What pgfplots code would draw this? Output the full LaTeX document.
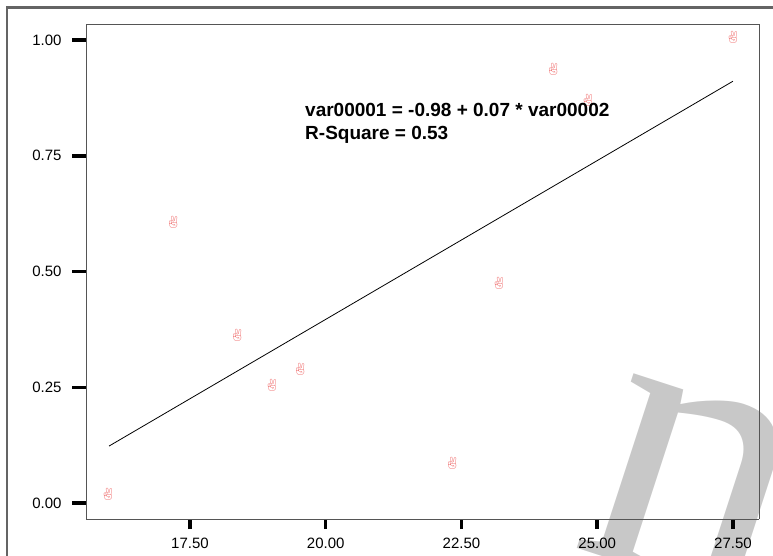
\documentclass[border=0pt]{standalone}
\usepackage{pgfplots}
\pgfplotsset{compat=1.18}
\usepackage{fontspec}
\setmainfont{Liberation Sans}
\newfontfamily\emojifont{Noto Emoji}
\newfontfamily\wmfont{Liberation Serif}

\definecolor{markpink}{RGB}{240,120,120}
\definecolor{framegray}{RGB}{100,100,100}
\definecolor{boxgray}{RGB}{85,85,85}
\definecolor{wmgray}{RGB}{200,200,200}

\begin{document}
\begin{tikzpicture}
  \useasboundingbox (0pt,0pt) rectangle (773pt,-555pt);
  % watermark, behind everything
  \node[anchor=base west, inner sep=0pt, rotate=-18, text=wmgray,
    font=\fontsize{400}{400}\wmfont] at (568pt,-545pt) {n};
  % outer frame (only top and left fall inside the picture)
  \draw[framegray, line width=2.5pt] (7pt,-600pt) -- (7pt,-7.5pt) -- (800pt,-7.5pt);

  \begin{axis}[
    at={(86pt,-519pt)}, anchor=south west,
    scale only axis,
    width=673pt, height=495pt,
    xmin=15.585, xmax=27.98,
    ymin=-0.0346, ymax=1.0346,
    xtick={17.5,20,22.5,25,27.5},
    ytick={0,0.25,0.5,0.75,1},
    xticklabels={17.50,20.00,22.50,25.00,27.50},
    yticklabels={0.00\kern7pt,0.25\kern7pt,0.50\kern7pt,0.75\kern7pt,1.00\kern7pt},
    axis x line*=bottom, axis y line*=left,
    tick align=outside,
    major tick length=14pt,
    tick style={black, line width=3.5pt},
    xtick style={/pgfplots/major tick length=10pt},
    axis line style={boxgray, line width=0.9pt},
    ticklabel style={font=\fontsize{15}{17}\selectfont},
    yticklabel style={anchor=east},
    xticklabel style={anchor=north, yshift=-1pt},
    clip=false,
  ]
    % regression fit
    \addplot[black, line width=0.8pt] coordinates {
      (16.01,0.123) (27.5,0.911)
    };
    % cases
    \addplot[only marks, mark=text, text mark={✌}, text mark as node=true,
      text mark style={text=markpink, inner sep=0pt,
        font=\fontsize{12}{12}\emojifont}] coordinates {
      (15.99,0.019)
      (17.19,0.605)
      (18.37,0.363)
      (19.01,0.253)
      (19.53,0.289)
      (22.33,0.086)
      (23.19,0.475)
      (24.19,0.937)
      (24.83,0.870)
      (27.50,1.006)
    };
  \end{axis}
  % closing top and right sides of the plot box
  \draw[boxgray, line width=0.9pt] (86pt,-24pt) -- (759pt,-24pt) -- (759pt,-519pt);

  \node[anchor=base west, inner sep=0pt, font=\fontsize{19}{21}\selectfont\bfseries]
    at (305pt,-116pt) {var00001 = -0.98 + 0.07 * var00002};
  \node[anchor=base west, inner sep=0pt, font=\fontsize{19}{21}\selectfont\bfseries]
    at (305pt,-139pt) {R-Square = 0.53};
\end{tikzpicture}
\end{document}
